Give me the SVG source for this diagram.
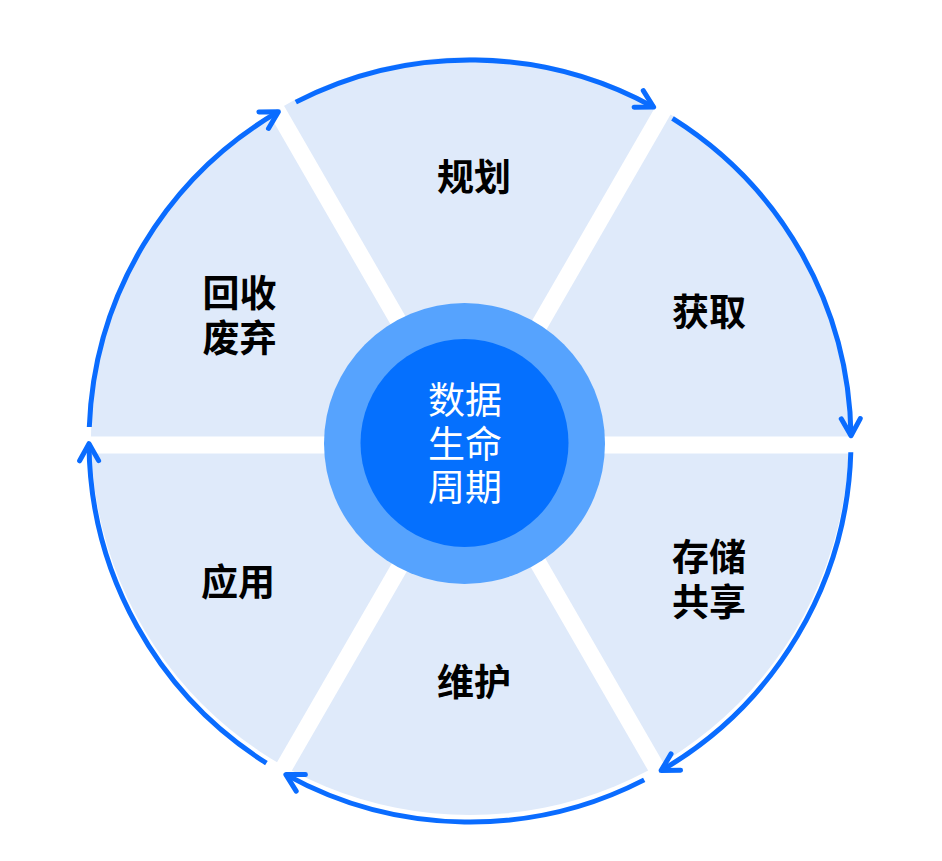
<svg xmlns="http://www.w3.org/2000/svg" width="942" height="861" viewBox="0 0 942 861">
  <style>
    .band { stroke: #ffffff; stroke-width: 17; fill: none; }
    .arc { fill: none; stroke: #0a6cff; stroke-width: 5; stroke-linecap: butt; marker-end: url(#arrow); }
    .label { font-family: "Noto Sans CJK SC", "Noto Sans", sans-serif; font-weight: 700; font-size: 37px; fill: #000000; text-anchor: middle; }
    .center-text { font-family: "Noto Sans CJK SC", "Noto Sans", sans-serif; font-weight: 400; font-size: 37px; fill: #ffffff; text-anchor: middle; }
  </style>
  <defs>
    <marker id="arrow" markerUnits="userSpaceOnUse" markerWidth="40" markerHeight="40" viewBox="-25 -20 40 40" refX="0" refY="0" orient="auto">
      <path d="M-17,-9.5 L0,0 L-17,9.5" fill="none" stroke="#0a6cff" stroke-width="5" stroke-linecap="round" stroke-linejoin="round"/>
    </marker>
  </defs>
  <rect width="942" height="861" fill="#ffffff"/>
  <g id="background">
    <circle cx="470" cy="436" r="379" fill="#dfeafa"/>
    <line class="band" x1="60" y1="445" x2="880" y2="445"/>
    <line class="band" x1="270" y1="98.6" x2="670" y2="791.4"/>
    <line class="band" x1="670" y1="98.6" x2="270" y2="791.4"/>
  </g>
  <g id="connectors">
    <path class="arc" d="M295.8,102.1 A381,381 0 0 1 653.6,107.1"/>
    <path class="arc" d="M672.5,118.3 A381,381 0 0 1 851.0,435.7"/>
    <path class="arc" d="M850.8,452.3 A381,381 0 0 1 661.1,770.6"/>
    <path class="arc" d="M644.2,779.9 A381,381 0 0 1 285.9,774.6"/>
    <path class="arc" d="M266.4,763.1 A381,381 0 0 1 89.0,443.7"/>
    <path class="arc" d="M89.3,427.0 A381,381 0 0 1 278.4,111.7"/>
  </g>
  <g id="node-plan"><text class="label" x="474" y="191">规划</text></g>
  <g id="node-acquire"><text class="label" x="709" y="326">获取</text></g>
  <g id="node-store"><text class="label" x="709" y="571">存储<tspan x="709" dy="45">共享</tspan></text></g>
  <g id="node-maintain"><text class="label" x="474" y="696">维护</text></g>
  <g id="node-apply"><text class="label" x="238" y="596">应用</text></g>
  <g id="node-recycle"><text class="label" x="239.5" y="307">回收<tspan x="239.5" dy="45">废弃</tspan></text></g>
  <g id="node-center">
    <circle cx="464.5" cy="443.5" r="140.5" fill="#56a3fe"/>
    <circle cx="464.5" cy="443" r="104" fill="#0570fe"/>
    <text class="center-text" x="465" y="414">数据<tspan x="465" dy="43.5">生命</tspan><tspan x="465" dy="43.5">周期</tspan></text>
  </g>
</svg>
